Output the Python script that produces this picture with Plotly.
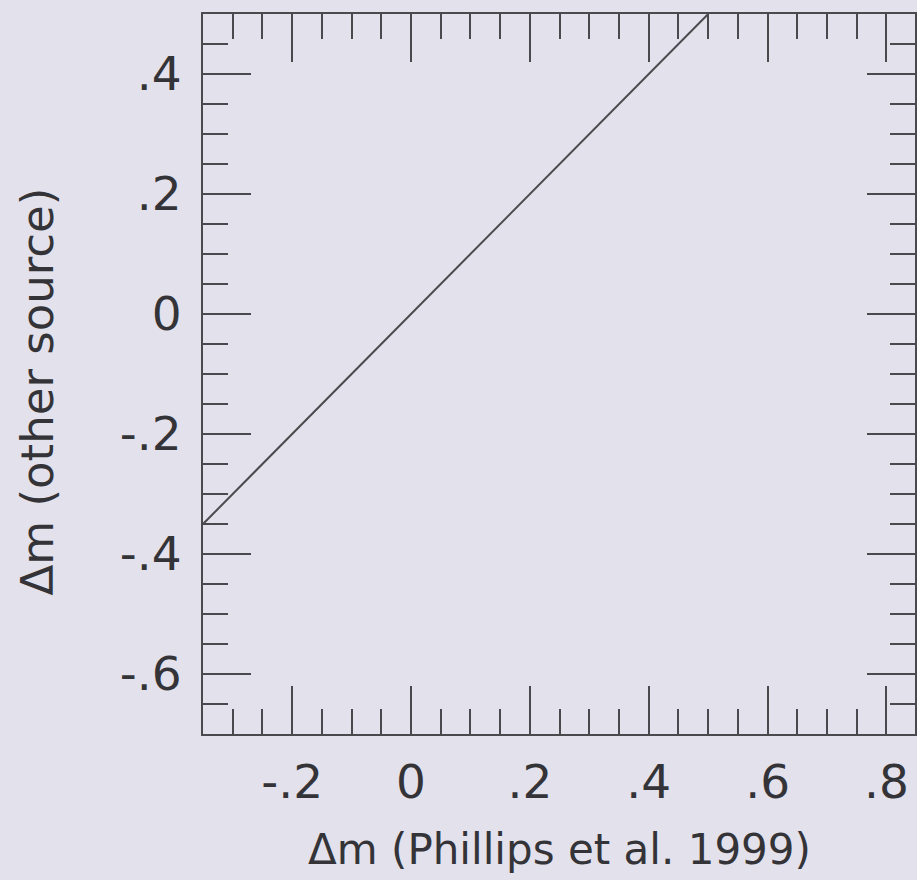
import plotly.graph_objects as go

# Identity relation between the two Δm scales
line_x = [-0.35, 0.5]
line_y = [-0.35, 0.5]

x_tickvals = [-0.2, 0.0, 0.2, 0.4, 0.6, 0.8]
x_ticktext = ["-.2", "0", ".2", ".4", ".6", ".8"]
y_tickvals = [-0.6, -0.4, -0.2, 0.0, 0.2, 0.4]
y_ticktext = ["-.6", "-.4", "-.2", "0", ".2", ".4"]

x_range = [-0.35, 0.848]
y_range = [-0.7, 0.5]

x_title = "Δm (Phillips et al. 1999)"
y_title = "Δm (other source)"

BG = "#e3e1eb"
INK = "#4a4a4e"
TXT = "#343438"
FONT = "DejaVu Sans"

fig = go.Figure()
fig.add_trace(go.Scatter(
    x=line_x, y=line_y, mode="lines",
    line=dict(color=INK, width=2), showlegend=False, hoverinfo="skip",
))

axis_common = dict(
    showline=True, linewidth=2, linecolor=INK, mirror="allticks",
    ticks="inside", ticklen=48, tickwidth=2, tickcolor=INK,
    showgrid=False, zeroline=False, tickmode="array",
    tickfont=dict(family=FONT, size=47, color=TXT),
    minor=dict(ticks="inside", ticklen=25, tickwidth=2, tickcolor=INK,
               tick0=0, dtick=0.05, showgrid=False),
)

fig.update_xaxes(range=x_range, tickvals=x_tickvals, ticktext=x_ticktext,
                 ticklabelstandoff=6, **axis_common)
fig.update_yaxes(range=y_range, tickvals=y_tickvals, ticktext=y_ticktext,
                 ticklabelstandoff=10, **axis_common)

fig.add_annotation(text=x_title, xref="paper", yref="paper",
                   x=0.5014, y=-0.161, xanchor="center", yanchor="middle",
                   showarrow=False, font=dict(family=FONT, size=42, color=TXT))
fig.add_annotation(text=y_title, xref="paper", yref="paper",
                   x=-0.2311, y=0.4764, xanchor="center", yanchor="middle",
                   textangle=-90, showarrow=False,
                   font=dict(family=FONT, size=45, color=TXT))

fig.update_layout(
    width=917, height=880,
    margin=dict(l=203, r=0, t=14, b=146, pad=0),
    paper_bgcolor=BG, plot_bgcolor=BG,
)

fig.write_html("out.html")
